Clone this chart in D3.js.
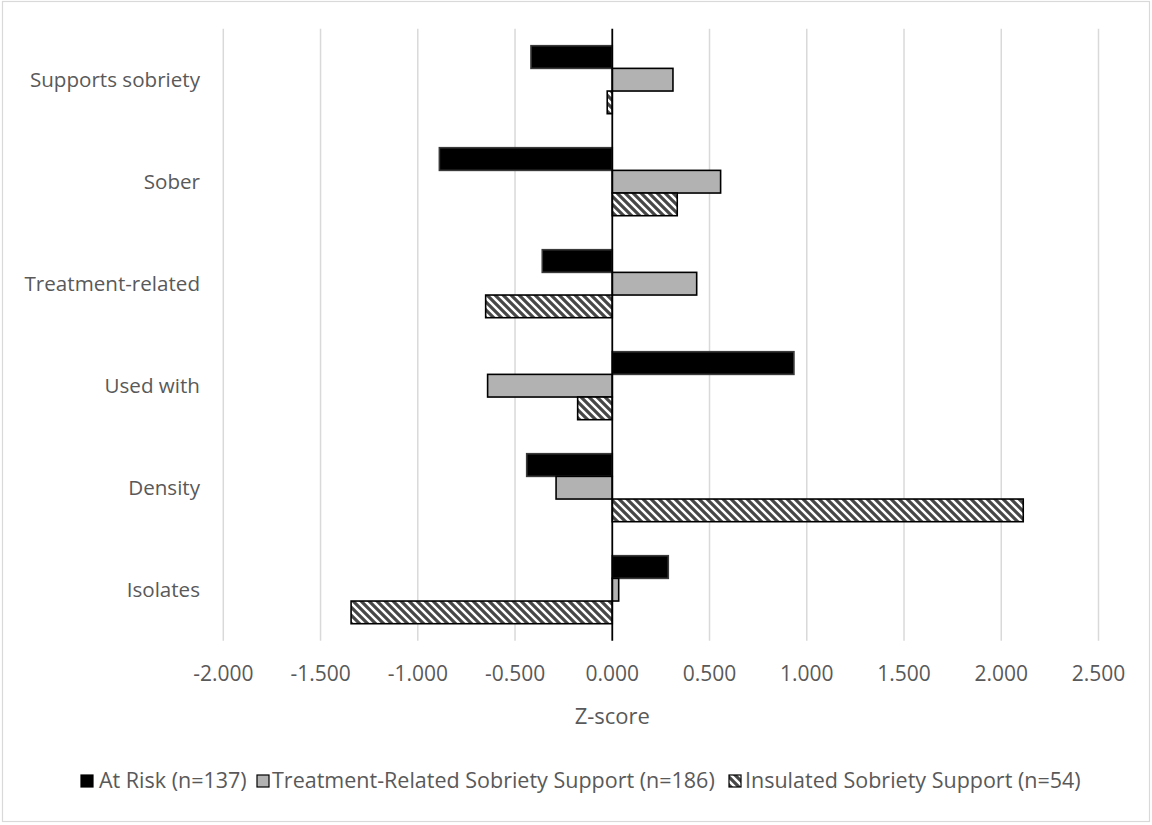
<!DOCTYPE html>
<html>
<head>
<meta charset="utf-8">
<script src="https://cdn.jsdelivr.net/npm/d3@7"></script>
<style>
  html, body { margin: 0; padding: 0; background: #fff; }
  svg { display: block; }
  text { font-family: "Open Sans", "Noto Sans", sans-serif; fill: #595959; }
</style>
</head>
<body>
<svg id="chart" width="1152" height="825"></svg>
<script>
// ---- data ----
const categories = ["Supports sobriety", "Sober", "Treatment-related", "Used with", "Density", "Isolates"];
const seriesNames = ["At Risk (n=137)", "Treatment-Related Sobriety Support (n=186)", "Insulated Sobriety Support (n=54)"];
const atRisk     = [-0.418, -0.889, -0.360,  0.934, -0.440,  0.288];
const treatment  = [ 0.312,  0.557,  0.434, -0.641, -0.289,  0.033];
const insulated  = [-0.026,  0.334, -0.651, -0.178,  2.113, -1.343];
const xTicks = [-2, -1.5, -1, -0.5, 0, 0.5, 1, 1.5, 2, 2.5];
const xTickLabels = ["-2.000", "-1.500", "-1.000", "-0.500", "0.000", "0.500", "1.000", "1.500", "2.000", "2.500"];
const axisTitle = "Z-score";

const seriesValues = [atRisk, treatment, insulated];

const svg = d3.select("#chart");

// pattern for insulated
const defs = svg.append("defs");
const pat = defs.append("pattern")
  .attr("id", "hatch").attr("patternUnits", "userSpaceOnUse")
  .attr("width", 8).attr("height", 8);
pat.append("rect").attr("width", 8).attr("height", 8).attr("fill", "#fff");
pat.append("path")
  .attr("d", "M-2,6 L2,10 M0,0 L8,8 M6,-2 L10,2")
  .attr("stroke", "#474747").attr("stroke-width", 3.2);

const fills = ["#000000", "#b2b2b2", "url(#hatch)"];
const strokes = ["#3a3a3a", "#000000", "#000000"];

// chart border
svg.append("rect")
  .attr("x", 2.5).attr("y", 1.5).attr("width", 1147).attr("height", 820)
  .attr("fill", "#fff").attr("stroke", "#d9d9d9").attr("stroke-width", 1.2);

const x = d3.scaleLinear().domain([-2, 2.5]).range([223.3, 1098.5]);
const y = d3.scaleBand().domain(categories).range([28.7, 640.7])
  .paddingInner(1/3).paddingOuter(1/6);
const ySub = d3.scaleBand().domain(d3.range(seriesNames.length)).range([0, y.bandwidth()]);

const plotTop = 28.7, plotBottom = 640.7;

// gridlines
svg.append("g").selectAll("line").data(xTicks.filter(t => t !== 0)).join("line")
  .attr("x1", d => x(d)).attr("x2", d => x(d))
  .attr("y1", plotTop).attr("y2", plotBottom)
  .attr("stroke", "#d9d9d9").attr("stroke-width", 1.5);

// bars
const rows = [];
categories.forEach((c, i) => {
  seriesValues.forEach((arr, s) => rows.push({ cat: c, s, v: arr[i] }));
});
svg.append("g").selectAll("rect").data(rows).join("rect")
  .attr("x", d => x(Math.min(0, d.v)))
  .attr("width", d => Math.abs(x(d.v) - x(0)))
  .attr("y", d => y(d.cat) + ySub(d.s))
  .attr("height", ySub.bandwidth())
  .attr("fill", d => fills[d.s])
  .attr("stroke", d => strokes[d.s])
  .attr("stroke-width", 1.6);

// zero axis line
svg.append("line")
  .attr("x1", x(0)).attr("x2", x(0))
  .attr("y1", plotTop).attr("y2", plotBottom)
  .attr("stroke", "#000").attr("stroke-width", 1.8);

// category labels
svg.append("g").selectAll("text").data(categories).join("text")
  .attr("x", 200).attr("y", d => y(d) + y.bandwidth() / 2)
  .attr("dy", "0.36em")
  .attr("text-anchor", "end")
  .attr("font-size", 20.6)
  .text(d => d);

// x tick labels
svg.append("g").selectAll("text").data(xTicks).join("text")
  .attr("x", d => x(d)).attr("y", 673).attr("dy", "0.36em")
  .attr("text-anchor", "middle").attr("font-size", 21)
  .text((d, i) => xTickLabels[i]);

// axis title
svg.append("text").attr("x", x(0)).attr("y", 716).attr("dy", "0.36em")
  .attr("text-anchor", "middle").attr("font-size", 22).text(axisTitle);

// legend
const legendItems = [
  { sq: 81, tx: 99 },
  { sq: 257, tx: 272 },
  { sq: 729, tx: 745 }
];
const lg = svg.append("g");
seriesNames.forEach((name, i) => {
  lg.append("rect")
    .attr("x", legendItems[i].sq).attr("y", 775).attr("width", 12).attr("height", 12)
    .attr("fill", fills[i]).attr("stroke", "#000").attr("stroke-width", 1.2);
  lg.append("text").attr("x", legendItems[i].tx).attr("y", 780).attr("dy", "0.36em")
    .attr("font-size", 21.5).text(name);
});
</script>
</body>
</html>
